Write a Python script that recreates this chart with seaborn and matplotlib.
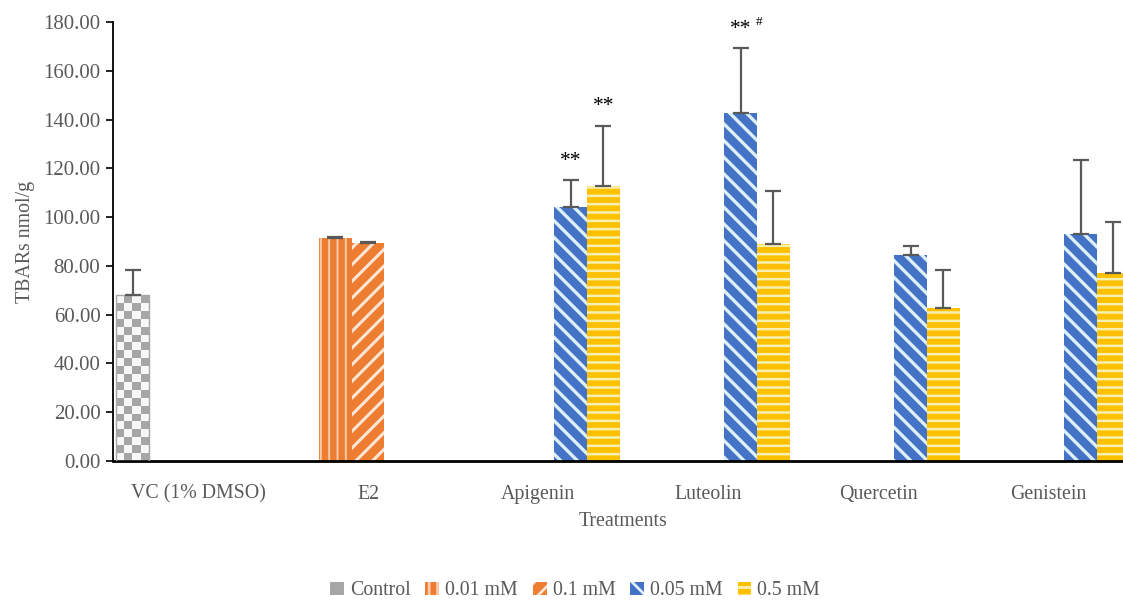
import numpy as np
import pandas as pd
import seaborn as sns
import matplotlib.pyplot as plt
from matplotlib.colors import ListedColormap
from matplotlib.patches import Patch

# Categories and series
treatments = ["VC (1% DMSO)", "E2", "Apigenin", "Luteolin", "Quercetin", "Genistein"]
doses = ["Control", "0.01 mM", "0.1 mM", "0.05 mM", "0.5 mM"]

# One entry per bar (long form)
bar_treatment = ["VC (1% DMSO)", "E2", "E2", "Apigenin", "Apigenin",
                 "Luteolin", "Luteolin", "Quercetin", "Quercetin", "Genistein", "Genistein"]
bar_dose = ["Control", "0.01 mM", "0.1 mM", "0.05 mM", "0.5 mM",
            "0.05 mM", "0.5 mM", "0.05 mM", "0.5 mM", "0.05 mM", "0.5 mM"]
bar_mean = [68.0, 91.5, 89.2, 104.0, 112.6, 142.6, 89.0, 84.5, 62.6, 93.0, 77.0]
bar_sd = [10.2, 0.4, 0.4, 11.1, 24.8, 26.6, 21.6, 3.6, 15.6, 30.4, 21.0]

# significance marks: (treatment, dose, text)
stars = [("Apigenin", "0.05 mM", "**"), ("Apigenin", "0.5 mM", "**"), ("Luteolin", "0.05 mM", "**")]
hashes = [("Luteolin", "0.05 mM", "#")]

# fill, hatch colour, hatch
styles = {
    "Control": ("#a6a6a6", "#a6a6a6", ""),
    "0.01 mM": ("#ed7d31", "#f8cbad", "||"),
    "0.1 mM": ("#ed7d31", "#fbe5d6", "//"),
    "0.05 mM": ("#4472c4", "#def0f7", "\\\\"),
    "0.5 mM": ("#ffc000", "#f7f0b0", "--"),
}
hatch_lw = {"Control": 1.0, "0.01 mM": 1.4, "0.1 mM": 2.2, "0.05 mM": 2.4, "0.5 mM": 1.8}

df = pd.DataFrame({"treatment": bar_treatment, "dose": bar_dose,
                   "mean": bar_mean, "sd": bar_sd})

sns.set_theme(style="white")
plt.rcParams["font.family"] = ["Liberation Serif", "DejaVu Serif"]
plt.rcParams["hatch.linewidth"] = 2.0
txt = "#595959"

fig = plt.figure(figsize=(11.23, 6.05), dpi=100)
ax = fig.add_axes([113 / 1123, 1 - 461 / 605, 1020 / 1123, 439 / 605])

sns.barplot(data=df, x="treatment", y="mean", hue="dose", order=treatments,
            hue_order=doses, width=0.96, errorbar=None, legend=False, ax=ax)

ax.set_xlim(-0.5, len(treatments) - 0.5)
ax.set_ylim(0, 180)
ax.set_yticks(np.arange(0, 181, 20))
ax.set_yticklabels([f"{v:.2f}" for v in np.arange(0, 181, 20)])

lookup = {(t, d): (m, s) for t, d, m, s in zip(bar_treatment, bar_dose, bar_mean, bar_sd)}
bar_pos = {}

for dose, container in zip(doses, ax.containers):
    face, hcol, hatch = styles[dose]
    for p in container.patches:
        if np.isnan(p.get_height()):
            continue
        cx = p.get_x() + p.get_width() / 2
        t = treatments[int(round(cx))]
        bar_pos[(t, dose)] = (p, cx)
        p.set_facecolor(face)
        p.set_edgecolor(hcol)
        p.set_linewidth(0)
        p.set_hatch(hatch)
        try:
            p.set_hatch_linewidth(hatch_lw[dose])
        except AttributeError:
            pass
        p.set_zorder(2)

# checkerboard texture for the control bar
for (t, dose), (p, cx) in bar_pos.items():
    if dose != "Control":
        continue
    x0, y0, w, h = p.get_x(), p.get_y(), p.get_width(), p.get_height()
    (px0, py0), (px1, py1) = ax.transData.transform([(x0, y0), (x0 + w, y0 + h)])
    ncol = max(1, int(round((px1 - px0) / 8)))
    nrow = max(1, int(round((py1 - py0) / 8)))
    checker = np.add.outer(np.arange(nrow), np.arange(ncol)) % 2
    ax.imshow(checker, cmap=ListedColormap(["#f7f7f7", "#a6a6a6"]),
              extent=(x0, x0 + w, y0, y0 + h), aspect="auto", origin="lower",
              interpolation="nearest", zorder=2.5)
    p.set_facecolor("none")
    p.set_edgecolor("#a6a6a6")
    p.set_linewidth(1.0)
    p.set_zorder(2.6)

# upper error bars
for (t, dose), (p, cx) in bar_pos.items():
    m, s = lookup[(t, dose)]
    ax.errorbar([cx], [m], yerr=[[0], [s]], fmt="none", ecolor="#595959",
                elinewidth=1.6, capsize=5.5, capthick=1.6, zorder=4)

for t, dose, label in stars:
    p, cx = bar_pos[(t, dose)]
    m, s = lookup[(t, dose)]
    ax.annotate(label, xy=(cx, m + s), xytext=(0, 7), textcoords="offset points",
                ha="center", va="bottom", fontsize=15.5, color="black")

for t, dose, label in hashes:
    p, cx = bar_pos[(t, dose)]
    m, s = lookup[(t, dose)]
    ax.annotate(label, xy=(cx, m + s), xytext=(13, 15), textcoords="offset points",
                ha="center", va="bottom", fontsize=9.5, color="black")

ax.set_ylim(0, 180)
ax.set_xlim(-0.5, len(treatments) - 0.5)

sns.despine(ax=ax)
for side in ["left", "bottom"]:
    ax.spines[side].set_color("black")
    ax.spines[side].set_linewidth(1.3)
ax.spines["bottom"].set_linewidth(2.0)

ax.tick_params(axis="y", left=True, length=5, width=1.2, color="black",
               labelsize=15, labelcolor=txt, pad=4)
ax.tick_params(axis="x", bottom=False, labelsize=14.3, labelcolor=txt, pad=11)
ax.set_xlabel("Treatments", fontsize=14.3, color=txt, labelpad=6)
ax.set_ylabel("TBARs nmol/g", fontsize=14.3, color=txt, labelpad=6)

handles = []
for dose in doses:
    face, hcol, hatch = styles[dose]
    handles.append(Patch(facecolor=face, edgecolor=hcol, hatch=hatch, linewidth=0, label=dose))

fig.legend(handles=handles, loc="lower center", bbox_to_anchor=(0.512, -0.022), ncol=5,
           frameon=False, fontsize=14.3, labelcolor=txt, handlelength=0.7,
           handleheight=0.7, handletextpad=0.3, columnspacing=0.75)

fig.savefig("out.png", dpi=100)
